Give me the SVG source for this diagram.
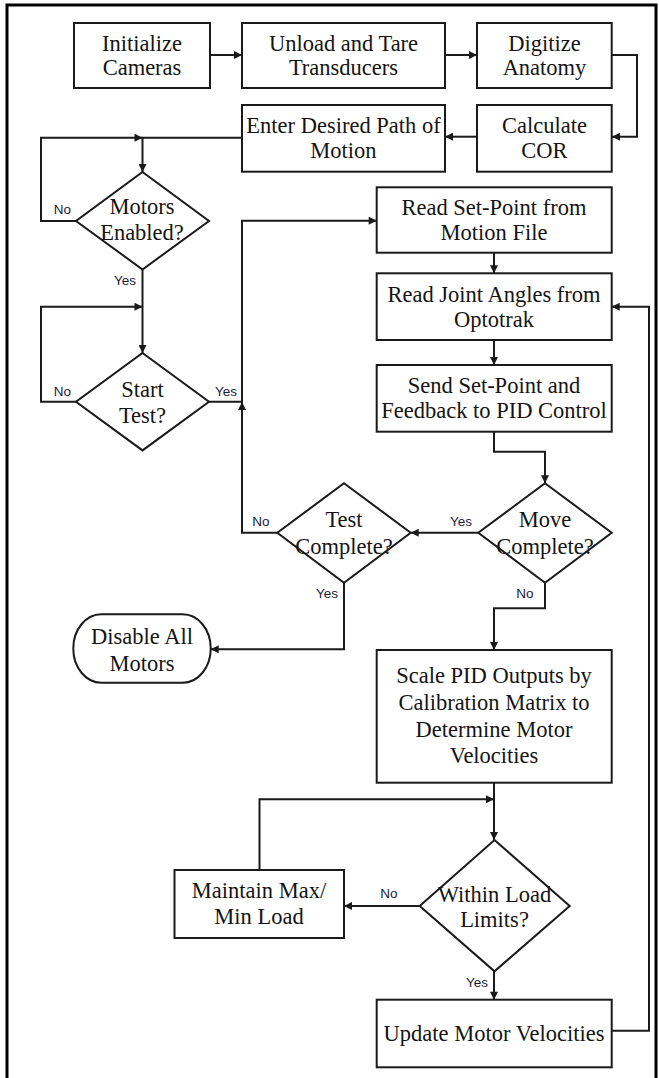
<svg xmlns="http://www.w3.org/2000/svg" width="659" height="1078" viewBox="0 0 659 1078">
<style>
.box{fill:#fff;stroke:#1a1a1a;stroke-width:2}
.frame{fill:none;stroke:#000;stroke-width:3}
.c{fill:none;stroke:#1a1a1a;stroke-width:2}
.ca{fill:none;stroke:#1a1a1a;stroke-width:2;marker-end:url(#ah)}
.t{font-family:"Liberation Serif","Times New Roman",serif;font-size:22.5px;fill:#141414;text-anchor:middle}
.l{font-family:"Liberation Sans",Arial,sans-serif;font-size:13.5px;fill:#1a1a3a;text-anchor:middle}
</style>
<defs>
<marker id="ah" viewBox="0 0 10 10" refX="10" refY="5" markerUnits="userSpaceOnUse" markerWidth="9" markerHeight="8" orient="auto">
<path d="M0,0 L10,5 L0,10 z" fill="#1a1a1a"/>
</marker>
</defs>
<rect width="659" height="1078" fill="#fff"/>
<path class="frame" d="M7,1078 V5 H656 V1078"/>

<g id="connectors">
<path class="ca" d="M210,55 H242"/>
<path class="ca" d="M445,55 H477"/>
<path class="ca" d="M612,55 H637 V136.7 H612"/>
<path class="ca" d="M477,136.7 H445"/>
<path class="ca" d="M242,137.7 H142.5 V172"/>
<path class="ca" d="M76,221 H41 V137.7 H142.5"/>
<path class="ca" d="M142.5,269.5 V353"/>
<path class="ca" d="M76,401.7 H41 V306.7 H142.5"/>
<path class="ca" d="M209,401.7 H242 V220.7 H376.7"/>
<path class="ca" d="M494,252.7 V273.3"/>
<path class="ca" d="M494,340 V365"/>
<path class="ca" d="M494,431.7 V451.7 H545 V483.3"/>
<path class="ca" d="M478.3,532.7 H410.7"/>
<path class="ca" d="M277.3,532.7 H242 V402"/>
<path class="ca" d="M344,582.7 V649.3 H210.7"/>
<path class="ca" d="M545,582.7 V608.3 H494 V650"/>
<path class="ca" d="M494,782.7 V840"/>
<path class="ca" d="M259.5,870 V799.3 H494"/>
<path class="ca" d="M419.7,906 H344"/>
<path class="ca" d="M494,971.3 V999.7"/>
<path class="ca" d="M611.7,1030.7 H649 V306.7 H611.7"/>
</g>

<g id="labels">
<text class="l" x="62.5" y="214">No</text>
<text class="l" x="125" y="285">Yes</text>
<text class="l" x="62.5" y="396">No</text>
<text class="l" x="226" y="396">Yes</text>
<text class="l" x="261" y="526">No</text>
<text class="l" x="327" y="597.5">Yes</text>
<text class="l" x="461" y="526">Yes</text>
<text class="l" x="525" y="597.5">No</text>
<text class="l" x="389" y="898">No</text>
<text class="l" x="477" y="987">Yes</text>
</g>

<g id="initialize-cameras">
<rect class="box" x="74" y="23" width="136" height="65"/>
<text class="t" x="142" y="50.5">Initialize</text>
<text class="t" x="142" y="75">Cameras</text>
</g>
<g id="unload-tare">
<rect class="box" x="242" y="23" width="203" height="65"/>
<text class="t" x="343.5" y="50.5">Unload and Tare</text>
<text class="t" x="343.5" y="75">Transducers</text>
</g>
<g id="digitize-anatomy">
<rect class="box" x="477" y="23" width="134.7" height="65"/>
<text class="t" x="544.5" y="50.5">Digitize</text>
<text class="t" x="544.5" y="75">Anatomy</text>
</g>
<g id="calculate-cor">
<rect class="box" x="477" y="105" width="134.7" height="66.7"/>
<text class="t" x="544.5" y="133">Calculate</text>
<text class="t" x="544.5" y="158">COR</text>
</g>
<g id="enter-path">
<rect class="box" x="242" y="105" width="203" height="66.7"/>
<text class="t" x="343.5" y="133">Enter Desired Path of</text>
<text class="t" x="343.5" y="158">Motion</text>
</g>
<g id="motors-enabled">
<polygon class="box" points="142.5,172 209,221 142.5,269.5 76,221"/>
<text class="t" x="142" y="214">Motors</text>
<text class="t" x="142" y="240">Enabled?</text>
</g>
<g id="start-test">
<polygon class="box" points="142.5,353 209,401.7 142.5,450.4 76,401.7"/>
<text class="t" x="142.5" y="396.5">Start</text>
<text class="t" x="142.5" y="423">Test?</text>
</g>
<g id="read-setpoint">
<rect class="box" x="376.7" y="187.3" width="235" height="65.4"/>
<text class="t" x="494" y="214.5">Read Set-Point from</text>
<text class="t" x="494" y="240">Motion File</text>
</g>
<g id="read-joint-angles">
<rect class="box" x="376.7" y="273.3" width="235" height="66.7"/>
<text class="t" x="494" y="301.5">Read Joint Angles from</text>
<text class="t" x="494" y="327">Optotrak</text>
</g>
<g id="send-setpoint">
<rect class="box" x="376.7" y="365" width="235" height="66.7"/>
<text class="t" x="494" y="393">Send Set-Point and</text>
<text class="t" x="494" y="418">Feedback to PID Control</text>
</g>
<g id="move-complete">
<polygon class="box" points="545,483.3 611.7,532.7 545,582.7 478.3,532.7"/>
<text class="t" x="545" y="526.5">Move</text>
<text class="t" x="545" y="553.5">Complete?</text>
</g>
<g id="test-complete">
<polygon class="box" points="344,483.3 410.7,532.7 344,582.7 277.3,532.7"/>
<text class="t" x="344" y="526.5">Test</text>
<text class="t" x="344" y="553.5">Complete?</text>
</g>
<g id="disable-motors">
<rect class="box" x="73.3" y="614.3" width="137.4" height="68.4" rx="28" ry="34"/>
<text class="t" x="142" y="644">Disable All</text>
<text class="t" x="142" y="670.5">Motors</text>
</g>
<g id="scale-pid">
<rect class="box" x="376.7" y="650" width="235" height="132.7"/>
<text class="t" x="494" y="682.5">Scale PID Outputs by</text>
<text class="t" x="494" y="709.5">Calibration Matrix to</text>
<text class="t" x="494" y="736.5">Determine Motor</text>
<text class="t" x="494" y="763">Velocities</text>
</g>
<g id="within-load-limits">
<polygon class="box" points="494.5,840 569.7,906 494.5,971.3 419.7,906"/>
<text class="t" x="494.5" y="902">Within Load</text>
<text class="t" x="494.5" y="927">Limits?</text>
</g>
<g id="maintain-load">
<rect class="box" x="174.5" y="870" width="169.5" height="68"/>
<text class="t" x="259" y="897.5">Maintain Max/</text>
<text class="t" x="259" y="924">Min Load</text>
</g>
<g id="update-velocities">
<rect class="box" x="376.7" y="999.7" width="235" height="67.6"/>
<text class="t" x="494" y="1040.5">Update Motor Velocities</text>
</g>
</svg>
